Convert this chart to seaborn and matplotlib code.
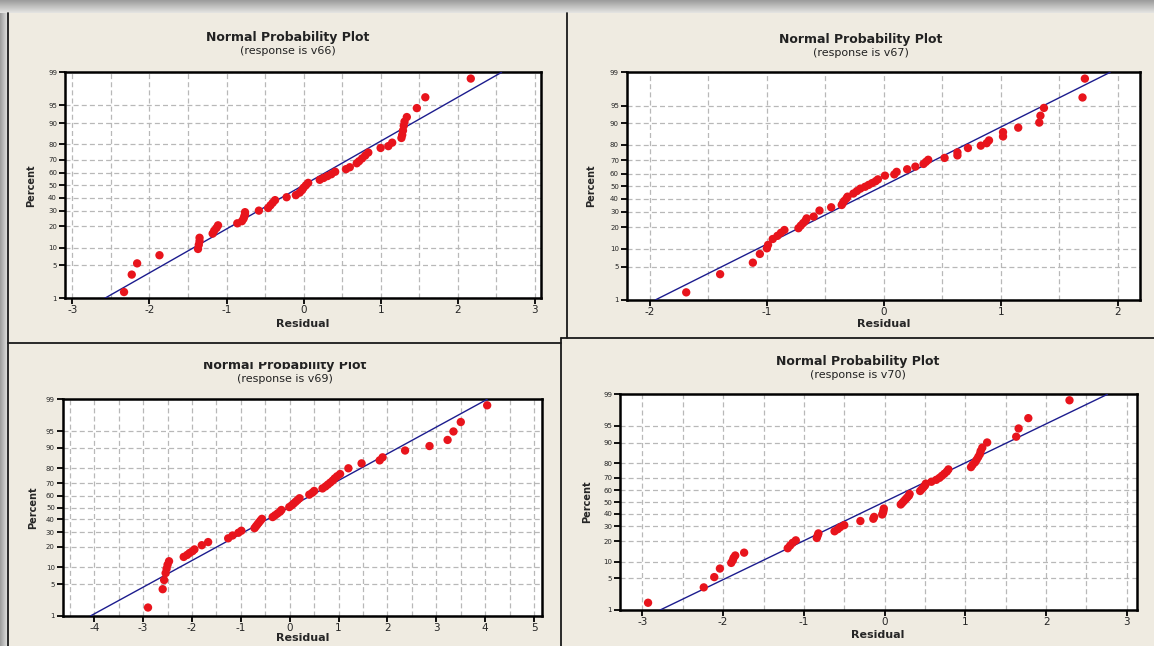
import numpy as np
import seaborn as sns
import matplotlib.pyplot as plt
from matplotlib.patches import Rectangle
from matplotlib.lines import Line2D
from matplotlib.colors import LinearSegmentedColormap
from statistics import NormalDist

# ---- data ----
V66_RESID = [-2.33, -2.23, -2.16, -1.87, -1.37, -1.36, -1.35, -1.35, -1.18, -1.16, -1.13, -1.11,
             -0.86, -0.80, -0.78, -0.77, -0.76, -0.76, -0.58, -0.46, -0.43, -0.40, -0.37, -0.22,
             -0.10, -0.05, -0.02, 0.00, 0.03, 0.06, 0.21, 0.26, 0.31, 0.36, 0.41, 0.55, 0.60,
             0.69, 0.72, 0.76, 0.80, 0.84, 1.00, 1.10, 1.15, 1.27, 1.28, 1.29, 1.30, 1.31, 1.34,
             1.47, 1.58, 2.17]
V66_PCT = [1.4, 3.3, 5.4, 7.5, 9.5, 11.0, 12.5, 14.0, 16.0, 17.5, 19.0, 20.5,
           21.7, 23.0, 24.5, 26.0, 27.5, 29.0, 30.1, 32.0, 34.0, 36.0, 38.0, 40.3,
           42.0, 44.0, 46.0, 48.0, 50.0, 52.0, 54.5, 56.0, 57.5, 59.0, 61.0, 63.0, 64.5,
           67.5, 69.0, 71.0, 73.0, 75.0, 77.9, 79.0, 81.0, 83.5, 85.0, 87.0, 89.0, 90.5, 92.0,
           94.4, 96.5, 98.6]
V66_LINE = [-2.58, 2.57]

V67_RESID = [-1.69, -1.40, -1.12, -1.06, -1.00, -0.99, -0.95, -0.91, -0.88, -0.85, -0.73, -0.71,
             -0.69, -0.67, -0.66, -0.60, -0.55, -0.45, -0.36, -0.35, -0.34, -0.32, -0.31, -0.26,
             -0.23, -0.20, -0.16, -0.13, -0.10, -0.07, -0.05, 0.01, 0.09, 0.11, 0.20, 0.27, 0.34,
             0.36, 0.38, 0.52, 0.63, 0.63, 0.72, 0.83, 0.88, 0.90, 1.02, 1.02, 1.15, 1.33, 1.34,
             1.37, 1.70, 1.72]
V67_PCT = [1.5, 3.6, 5.9, 8.3, 10.2, 11.5, 14.0, 15.5, 17.0, 18.5, 19.5, 21.0,
           22.5, 24.0, 25.5, 26.7, 30.9, 33.3, 35.0, 36.5, 38.0, 40.0, 41.5, 44.0,
           46.0, 48.0, 49.5, 51.0, 52.5, 54.0, 55.5, 58.5, 59.5, 61.5, 63.5, 65.5, 67.5,
           69.0, 70.5, 71.8, 73.5, 75.5, 78.2, 79.6, 81.0, 82.5, 84.5, 86.5, 88.4, 90.3, 92.5,
           94.5, 96.5, 98.6]
V67_LINE = [-1.955, 1.936]

V69_RESID = [-2.90, -2.60, -2.57, -2.54, -2.52, -2.50, -2.47, -2.17, -2.10, -2.05, -1.99, -1.95,
             -1.80, -1.67, -1.26, -1.17, -1.05, -0.99, -0.72, -0.69, -0.66, -0.63, -0.60, -0.57,
             -0.35, -0.30, -0.25, -0.20, -0.17, -0.01, 0.04, 0.08, 0.12, 0.16, 0.20, 0.40, 0.46,
             0.50, 0.67, 0.73, 0.78, 0.83, 0.88, 0.92, 0.97, 1.03, 1.20, 1.47, 1.84, 1.90, 2.36,
             2.86, 3.23, 3.35, 3.50, 4.04]
V69_PCT = [1.6, 4.0, 6.0, 8.0, 9.5, 11.0, 12.5, 14.5, 15.5, 16.5, 17.5, 18.5,
           21.0, 23.0, 25.5, 27.5, 29.5, 31.0, 33.0, 34.5, 36.0, 37.5, 39.0, 40.5,
           42.0, 43.5, 45.0, 46.5, 48.0, 50.5, 52.0, 53.5, 55.0, 56.5, 58.0, 61.0, 62.5,
           64.0, 66.0, 67.5, 69.0, 70.5, 72.0, 73.5, 75.0, 76.5, 80.1, 82.9, 84.5, 86.0, 89.0,
           90.7, 92.7, 94.9, 96.7, 98.6]
V69_LINE = [-4.08, 4.04]

V70_RESID = [-2.93, -2.24, -2.11, -2.04, -1.90, -1.88, -1.87, -1.85, -1.74, -1.20, -1.17, -1.14,
             -1.10, -0.84, -0.83, -0.82, -0.62, -0.58, -0.55, -0.50, -0.30, -0.14, -0.13, -0.03,
             -0.02, -0.015, -0.01, 0.20, 0.22, 0.24, 0.26, 0.28, 0.30, 0.31, 0.44, 0.46, 0.48,
             0.50, 0.51, 0.58, 0.64, 0.68, 0.71, 0.74, 0.77, 0.79, 1.07, 1.09, 1.12, 1.14, 1.16,
             1.18, 1.19, 1.21, 1.27, 1.63, 1.66, 1.78, 2.29]
V70_PCT = [1.5, 3.3, 5.3, 7.6, 9.5, 10.5, 11.5, 12.5, 13.8, 16.0, 17.5, 19.0,
           20.5, 22.0, 23.5, 25.0, 26.5, 28.0, 29.5, 31.0, 34.2, 36.0, 37.5, 39.5,
           41.0, 42.5, 44.5, 48.0, 49.5, 51.0, 52.5, 54.0, 55.5, 57.0, 59.5, 61.0, 62.5,
           64.0, 65.5, 67.0, 68.5, 70.0, 71.5, 73.0, 74.5, 76.0, 77.5, 79.0, 80.5, 82.0, 83.5,
           85.0, 86.5, 88.0, 90.1, 92.1, 94.4, 96.5, 98.6]
V70_LINE = [-2.78, 2.76]

LINE_PCT = [1, 99]
PCT_TICKS = [1, 5, 10, 20, 30, 40, 50, 60, 70, 80, 90, 95, 99]
RESPONSES = ['v66', 'v67', 'v69', 'v70']

W, H = 1154, 646
BEIGE = '#efebe1'
RED = '#e8141c'
NAVY = '#1c1c8e'

# layout in pixels: axes box (L, T, R, B), xlim, x tick range, panel box (L, R, T)
LAYOUT = [
    dict(ax=(64.7, 72.3, 540.9, 298.3), xlim=(-3.1, 3.08), xt=(-3, 3), panel=(8, 567, 13),
         title_y=37, sub_y=51, xl_y=324, yl_x=31),
    dict(ax=(626.6, 72.3, 1139.8, 300), xlim=(-2.2, 2.19), xt=(-2, 2), panel=(567, 1154, 13),
         title_y=39, sub_y=52.5, xl_y=324, yl_x=591),
    dict(ax=(62.5, 399.3, 542.4, 616), xlim=(-4.65, 5.17), xt=(-4, 5), panel=(8, 561, 343),
         title_y=366, sub_y=378.5, xl_y=638, yl_x=33),
    dict(ax=(619.8, 394.3, 1136.5, 610), xlim=(-3.28, 3.12), xt=(-3, 3), panel=(561, 1154, 338),
         title_y=362, sub_y=375, xl_y=635, yl_x=587),
]

_nd = NormalDist()
_inv = np.vectorize(lambda v: _nd.inv_cdf(v / 100.0), otypes=[float])
_cdf = np.vectorize(lambda v: _nd.cdf(v) * 100.0, otypes=[float])


def pct_to_z(p):
    p = np.clip(np.asarray(p, dtype=float), 1e-6, 100 - 1e-6)
    return _inv(p)


def z_to_pct(z):
    return _cdf(np.asarray(z, dtype=float))


def px_rect(L, T, R, B):
    return [L / W, 1 - B / H, (R - L) / W, (B - T) / H]


def main():
    sns.set_theme(style='white')
    plt.rcParams['font.family'] = ['DejaVu Sans']
    plt.rcParams['axes.unicode_minus'] = False

    fig = plt.figure(figsize=(W / 100, H / 100), dpi=100, facecolor=BEIGE)

    # window shadow along the top and left edges
    shade = LinearSegmentedColormap.from_list('shade', ['#9c9c9c', '#e4e4e2'])
    top = fig.add_axes([0, 1 - 13 / H, 1, 13 / H])
    top.imshow(np.linspace(0, 1, 20)[:, None], aspect='auto', cmap=shade)
    top.axis('off')
    left = fig.add_axes([0, 0, 8 / W, 1 - 13 / H])
    left.imshow(np.linspace(0, 1, 20)[None, :], aspect='auto', cmap=shade)
    left.axis('off')

    # panel borders
    borders = [((8, 8), (13, 646)), ((567, 567), (13, 337.5)), ((8, 561), (342.7, 342.7)),
               ((561, 561), (337.5, 646)), ((561, 1154), (337.7, 337.7))]
    for xs, ys in borders:
        fig.add_artist(Line2D([x / W for x in xs], [1 - y / H for y in ys],
                              color='#1a1a1a', lw=1.3, transform=fig.transFigure))

    datasets = [(V66_RESID, V66_PCT, V66_LINE), (V67_RESID, V67_PCT, V67_LINE),
                (V69_RESID, V69_PCT, V69_LINE), (V70_RESID, V70_PCT, V70_LINE)]

    for resp, (resid, pct, line_x), lay in zip(RESPONSES, datasets, LAYOUT):
        L, T, R, B = lay['ax']
        ax = fig.add_axes(px_rect(L, T, R, B))
        ax.set_facecolor('white')

        sns.lineplot(x=line_x, y=LINE_PCT, ax=ax, color=NAVY, lw=1.0, zorder=3)
        sns.scatterplot(x=resid, y=pct, ax=ax, color=RED, s=36, edgecolor='none',
                        linewidth=0, zorder=4)

        ax.set_yscale('function', functions=(pct_to_z, z_to_pct))
        ax.set_ylim(1, 99)
        ax.set_xlim(*lay['xlim'])
        ax.set_yticks(PCT_TICKS)
        ax.set_yticklabels([str(t) for t in PCT_TICKS])
        ax.minorticks_off()
        x0, x1 = lay['xt']
        ax.set_xticks(np.arange(x0, x1 + 1))
        ax.set_xticklabels([str(v) for v in range(x0, x1 + 1)])
        start = x0 - 0.5 if lay['xlim'][0] < x0 - 0.5 else x0
        ax.set_xticks(np.arange(start, x1 + 0.01, 0.5), minor=True)

        ax.grid(True, which='both', axis='x', color='#b8b8b8', lw=0.9, ls=(0, (4, 2.5)))
        ax.grid(True, which='major', axis='y', color='#b8b8b8', lw=0.9, ls=(0, (4, 2.5)))
        ax.set_axisbelow(True)

        ax.tick_params(axis='y', which='major', direction='out', length=4, width=1.3,
                       color='black', labelsize=5, pad=1.5, left=True)
        ax.tick_params(axis='x', which='major', direction='out', length=4, width=1.3,
                       color='black', labelsize=7.5, pad=1, bottom=True)
        ax.tick_params(axis='x', which='minor', length=0)
        for sp in ax.spines.values():
            sp.set_color('black')
            sp.set_linewidth(1.8)

        ax.set_xlabel('Residual', fontsize=8, fontweight='bold', va='center')
        ax.xaxis.set_label_coords(0.5, -(lay['xl_y'] - B) / (B - T))
        ax.set_ylabel('Percent', fontsize=7, fontweight='bold', va='center')
        ax.yaxis.set_label_coords(-(L - lay['yl_x']) / (R - L), 0.5)

        pl, pr, pt = lay['panel']
        cx = (pl + pr) / 2 / W
        fig.text(cx, 1 - lay['title_y'] / H, 'Normal Probability Plot', ha='center',
                 va='center', fontsize=9, fontweight='bold', color='#222222')
        fig.text(cx, 1 - lay['sub_y'] / H, f'(response is {resp})', ha='center',
                 va='center', fontsize=8, color='#222222')

    # the third panel's title is clipped at the top in the original capture
    fig.add_artist(Rectangle((180 / W, 1 - 361.5 / H), 220 / W, 17.5 / H,
                             transform=fig.transFigure, facecolor=BEIGE,
                             edgecolor='none', zorder=10))

    fig.savefig('out.png', dpi=100, facecolor=BEIGE)
    plt.close(fig)


if __name__ == '__main__':
    main()
